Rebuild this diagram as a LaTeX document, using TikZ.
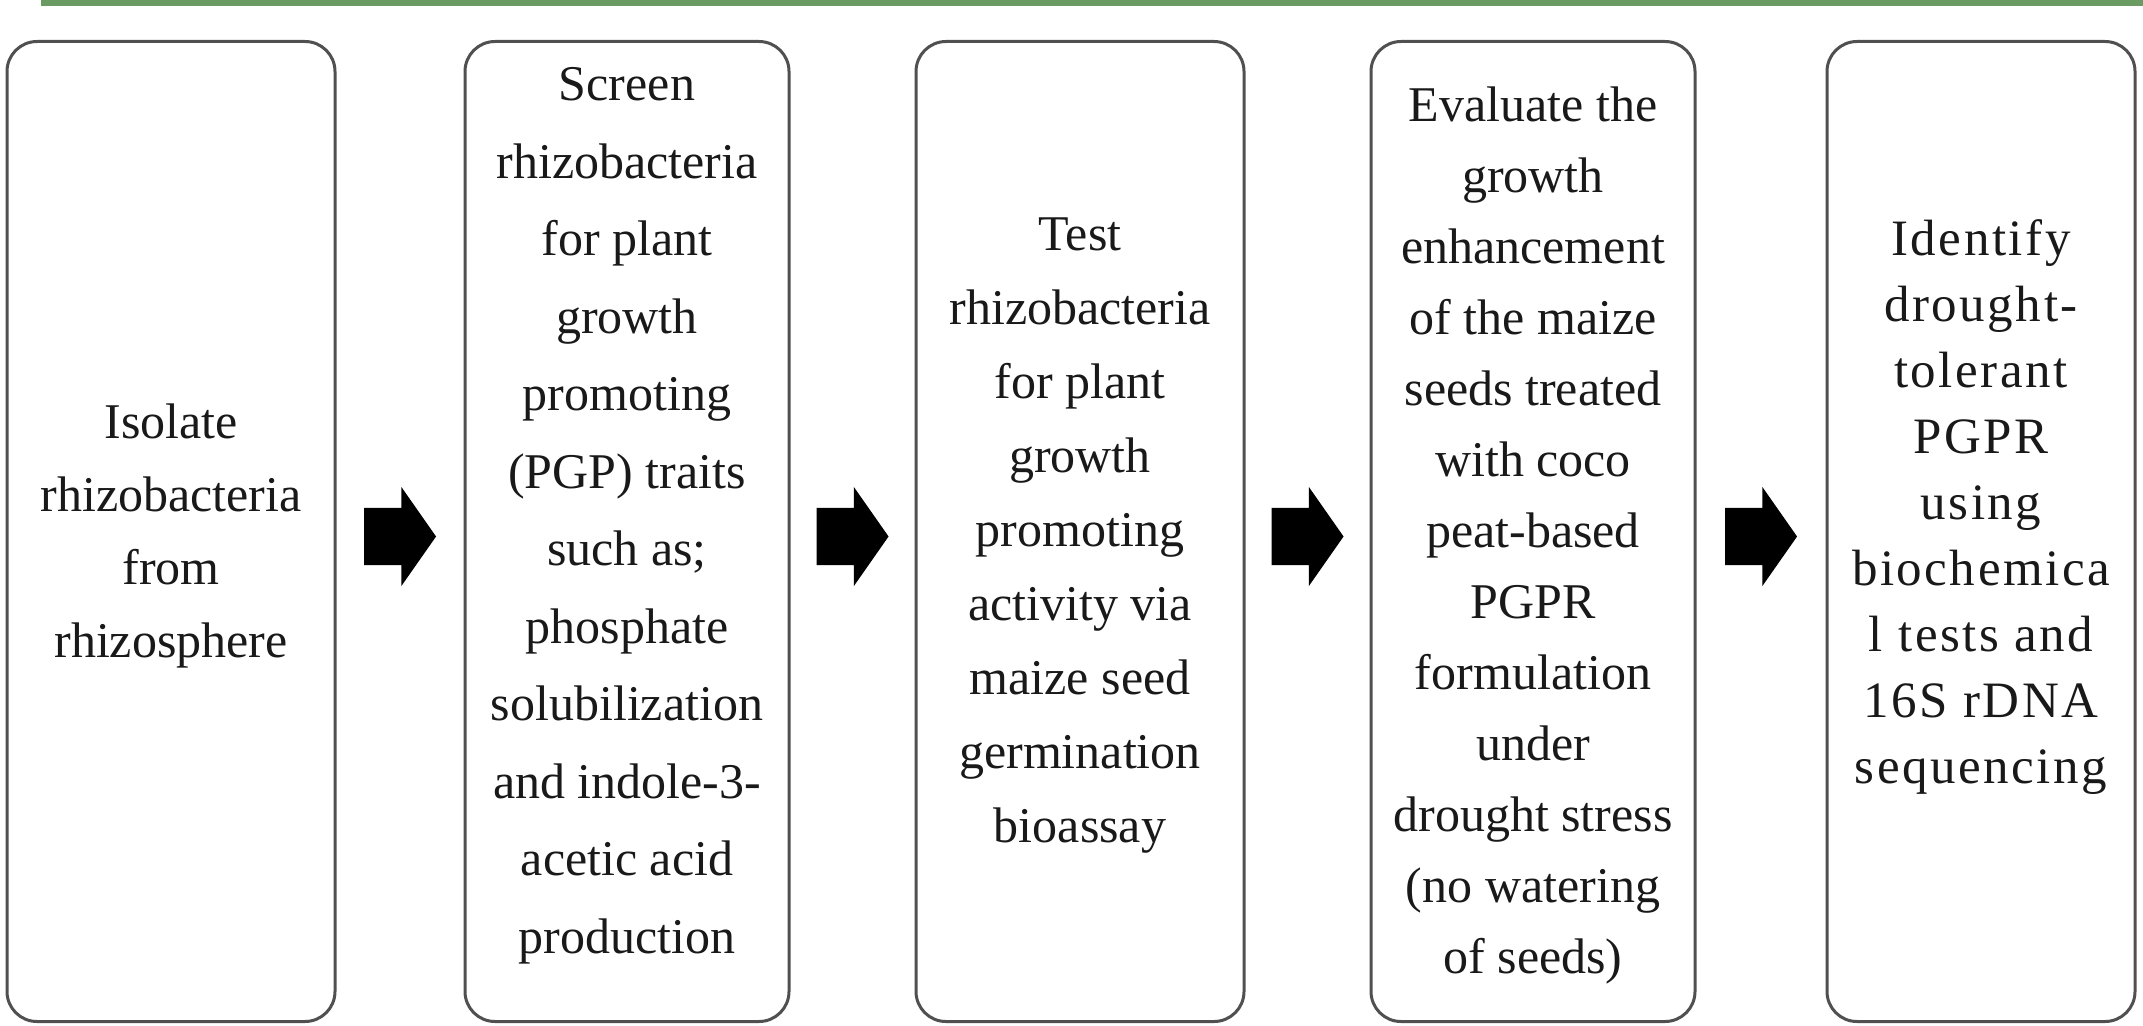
\documentclass[tikz,border=0pt]{standalone}
\usepackage{fontspec}
\setmainfont{Liberation Serif}
\newfontfamily\widefont[LetterSpace=5]{Liberation Serif}
\usetikzlibrary{shapes.arrows}
\definecolor{barGreen}{RGB}{106,155,98}
\definecolor{boxLine}{RGB}{80,80,80}
\definecolor{txt}{RGB}{25,25,25}
\begin{document}
\begin{tikzpicture}[x=1pt,y=-1pt,
  stagebox/.style={draw=boxLine, line width=3pt, rounded corners=30pt,
    minimum height=980pt, inner sep=0pt},
  stagetext/.style={align=center, inner sep=0pt, text=txt},
  blockarrow/.style={single arrow, fill=black, draw=none, inner sep=0pt,
    minimum height=72pt, single arrow head extend=21pt,
    single arrow tip angle=110, yshift=-5pt, xshift=-10pt}]
\useasboundingbox (0,0) rectangle (2143,1025);
\fill[white] (0,0) rectangle (2143,1025);
\fill[barGreen] (41,0) rectangle (2143,6);

\node[stagebox, minimum width=328pt] (b1) at (171,531.5) {};
\node[stagebox, minimum width=324pt] (b2) at (627,531.5) {};
\node[stagebox, minimum width=328pt] (b3) at (1080,531.5) {};
\node[stagebox, minimum width=324pt] (b4) at (1533,531.5) {};
\node[stagebox, minimum width=308pt] (b5) at (1981,531.5) {};

\node[stagetext, font=\fontsize{50}{73}\selectfont] (t1) at (171,536)
  {Isolate\\rhizobacteria\\from\\rhizosphere};
\node[stagetext, font=\fontsize{50}{77.5}\selectfont] (t2) at (627,516)
  {Screen\\rhizobacteria\\for plant\\growth\\promoting\\(PGP) traits\\such as;\\phosphate\\solubilization\\and indole-3-\\acetic acid\\production};
\node[stagetext, font=\fontsize{50}{74}\selectfont] (t3) at (1080,536)
  {Test\\rhizobacteria\\for plant\\growth\\promoting\\activity via\\maize seed\\germination\\bioassay};
\node[stagetext, font=\fontsize{50}{71}\selectfont] (t4) at (1533,535)
  {Evaluate the\\growth\\enhancement\\of the maize\\seeds treated\\with coco\\peat-based\\PGPR\\formulation\\under\\drought stress\\(no watering\\of seeds)};
\node[stagetext, font=\widefont\fontsize{51}{66}\selectfont] (t5) at (1981,507)
  {Identify\\drought-\\tolerant\\PGPR\\using\\biochemica\\l tests and\\16S rDNA\\sequencing};

\path (b1.east) -- (b2.west) node[midway, blockarrow] (a1) {\rule{0pt}{57pt}};
\path (b2.east) -- (b3.west) node[midway, blockarrow] (a2) {\rule{0pt}{57pt}};
\path (b3.east) -- (b4.west) node[midway, blockarrow] (a3) {\rule{0pt}{57pt}};
\path (b4.east) -- (b5.west) node[midway, blockarrow] (a4) {\rule{0pt}{57pt}};
\end{tikzpicture}
\end{document}
